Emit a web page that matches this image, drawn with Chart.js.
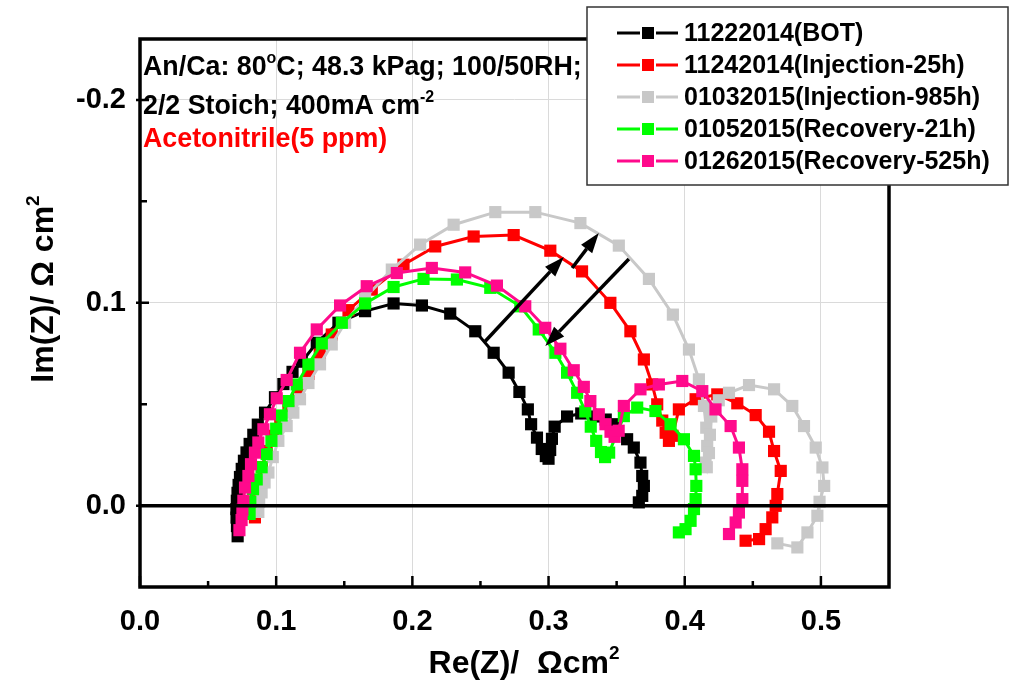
<!DOCTYPE html>
<html>
<head>
<meta charset="utf-8">
<script src="https://cdn.jsdelivr.net/npm/chart.js@4.4.1/dist/chart.umd.min.js"></script>
<style>
    html, body { margin: 0; padding: 0; background: #fff; }
    #wrap { width: 1010px; height: 681px; position: relative; }
</style>
</head>
<body>
<div id="wrap"><canvas id="plot-eis"></canvas></div>
<script>
const FONT = '"Liberation Sans", Arial, Helvetica, sans-serif';

const seriesNames = ['11222014(BOT)', '11242014(Injection-25h)', '01032015(Injection-985h)',
    '01052015(Recovery-21h)', '01262015(Recovery-525h)'];
const seriesColors = ['#000000', '#ff0000', '#c8c8c8', '#00ff00', '#ff0a8c'];

// Nyquist data, Re(Z) and -Im(Z) in ohm cm2
const botRe = [0.0717, 0.0712, 0.0709, 0.0708, 0.0711, 0.0716, 0.0724, 0.0734, 0.0747, 0.0763, 0.0782, 0.0805,
    0.0832, 0.0865, 0.0918, 0.0991, 0.1053, 0.1120, 0.1188, 0.1298, 0.1457, 0.1653, 0.1862, 0.2070, 0.2278,
    0.2462, 0.2597, 0.2707, 0.2786, 0.2848, 0.2872, 0.2915, 0.2950, 0.2980, 0.3000, 0.3012, 0.3025, 0.3045,
    0.3136, 0.3240, 0.3340, 0.3420, 0.3491, 0.3577, 0.3626, 0.3675, 0.3688, 0.3700, 0.3688, 0.3663];
const botIm = [-0.0150, -0.0100, -0.0058, -0.0016, 0.0025, 0.0064, 0.0103, 0.0142, 0.0182, 0.0222, 0.0263, 0.0305,
    0.0350, 0.0400, 0.0459, 0.0535, 0.0600, 0.0660, 0.0710, 0.0803, 0.0902, 0.0959, 0.0997, 0.0987, 0.0947,
    0.0860, 0.0754, 0.0656, 0.0561, 0.0475, 0.0402, 0.0336, 0.0280, 0.0245, 0.0232, 0.0275, 0.0330, 0.0390,
    0.0440, 0.0455, 0.0440, 0.0425, 0.0402, 0.0328, 0.0287, 0.0213, 0.0147, 0.0098, 0.0049, 0.0017];

const inj25Re = [0.0844, 0.0850, 0.0868, 0.0895, 0.0930, 0.0975, 0.1030, 0.1090, 0.1163, 0.1237, 0.1320, 0.1408,
    0.1531, 0.1702, 0.1935, 0.2168, 0.2450, 0.2744, 0.3013, 0.3246, 0.3454, 0.3601, 0.3700, 0.3761, 0.3798,
    0.3835, 0.3860, 0.3884, 0.3910, 0.3957, 0.4080, 0.4239, 0.4386, 0.4521, 0.4619, 0.4656, 0.4705, 0.4680,
    0.4668, 0.4643, 0.4594, 0.4546, 0.4447];
const inj25Im = [-0.0057, 0.0030, 0.0110, 0.0190, 0.0270, 0.0345, 0.0420, 0.0492, 0.0565, 0.0650, 0.0745, 0.0844,
    0.0964, 0.1065, 0.1188, 0.1278, 0.1327, 0.1334, 0.1257, 0.1155, 0.1000, 0.0860, 0.0721, 0.0598, 0.0500,
    0.0420, 0.0360, 0.0320, 0.0345, 0.0475, 0.0525, 0.0549, 0.0505, 0.0447, 0.0365, 0.0270, 0.0172, 0.0058,
    0.0000, -0.0057, -0.0115, -0.0164, -0.0172];

const inj985Re = [0.0869, 0.0875, 0.0893, 0.0915, 0.0943, 0.0975, 0.1016, 0.1077, 0.1126, 0.1175, 0.1237, 0.1322,
    0.1408, 0.1506, 0.1653, 0.1849, 0.2057, 0.2303, 0.2609, 0.2903, 0.3234, 0.3516, 0.3737, 0.3913, 0.4031,
    0.4104, 0.4141, 0.4158, 0.4165, 0.4153, 0.4162, 0.4178, 0.4185, 0.4195, 0.4250, 0.4325, 0.4472, 0.4656,
    0.4790, 0.4876, 0.4962, 0.5011, 0.5024, 0.4990, 0.4974, 0.4901, 0.4827, 0.4680];
const inj985Im = [-0.0030, 0.0020, 0.0066, 0.0115, 0.0164, 0.0240, 0.0320, 0.0393, 0.0459, 0.0525, 0.0605, 0.0697,
    0.0795, 0.0902, 0.1025, 0.1164, 0.1287, 0.1385, 0.1447, 0.1447, 0.1393, 0.1282, 0.1118, 0.0942, 0.0770,
    0.0623, 0.0492, 0.0385, 0.0295, 0.0213, 0.0190, 0.0260, 0.0350, 0.0440, 0.0520, 0.0557, 0.0595, 0.0574,
    0.0492, 0.0393, 0.0287, 0.0189, 0.0098, 0.0020, -0.0049, -0.0131, -0.0205, -0.0185];

const rec21Re = [0.0805, 0.0810, 0.0830, 0.0857, 0.0893, 0.0930, 0.0965, 0.1000, 0.1040, 0.1090, 0.1151, 0.1237,
    0.1335, 0.1482, 0.1653, 0.1862, 0.2082, 0.2327, 0.2572, 0.2793, 0.2928, 0.3050, 0.3136, 0.3210, 0.3270,
    0.3310, 0.3350, 0.3385, 0.3415, 0.3445, 0.3553, 0.3651, 0.3785, 0.3896, 0.3994, 0.4068, 0.4080, 0.4085,
    0.4080, 0.4068, 0.4043, 0.4006, 0.3957];
const rec21Im = [-0.0040, 0.0020, 0.0082, 0.0130, 0.0190, 0.0255, 0.0320, 0.0380, 0.0445, 0.0516, 0.0598, 0.0697,
    0.0800, 0.0902, 0.0997, 0.1078, 0.1118, 0.1115, 0.1074, 0.0983, 0.0869, 0.0754, 0.0656, 0.0557, 0.0465,
    0.0390, 0.0320, 0.0265, 0.0240, 0.0262, 0.0442, 0.0484, 0.0467, 0.0402, 0.0328, 0.0246, 0.0180, 0.0098,
    0.0033, -0.0016, -0.0074, -0.0115, -0.0131];

const rec525Re = [0.0730, 0.0746, 0.0752, 0.0759, 0.0771, 0.0796, 0.0815, 0.0844, 0.0869, 0.0906, 0.0954, 0.1004,
    0.1077, 0.1175, 0.1298, 0.1469, 0.1665, 0.1886, 0.2143, 0.2388, 0.2621, 0.2829, 0.2976, 0.3087, 0.3185,
    0.3259, 0.3307, 0.3369, 0.3418, 0.3455, 0.3485, 0.3515, 0.3553, 0.3675, 0.3810, 0.3982, 0.4129, 0.4226,
    0.4337, 0.4398, 0.4423, 0.4423, 0.4423, 0.4398, 0.4374, 0.4325];
const rec525Im = [-0.0120, -0.0070, -0.0020, 0.0025, 0.0090, 0.0147, 0.0205, 0.0262, 0.0312, 0.0377, 0.0451, 0.0530,
    0.0620, 0.0754, 0.0869, 0.0987, 0.1082, 0.1147, 0.1172, 0.1150, 0.1085, 0.0983, 0.0877, 0.0774, 0.0668,
    0.0586, 0.0516, 0.0451, 0.0402, 0.0365, 0.0340, 0.0370, 0.0492, 0.0574, 0.0598, 0.0615, 0.0565, 0.0475,
    0.0393, 0.0287, 0.0180, 0.0123, 0.0033, -0.0033, -0.0082, -0.0139];

const seriesRe = [botRe, inj25Re, inj985Re, rec21Re, rec525Re];
const seriesIm = [botIm, inj25Im, inj985Im, rec21Im, rec525Im];

const xTicks = [0, 0.1, 0.2, 0.3, 0.4, 0.5];
const yTicks = [0, 0.1, 0.2];
const yTickLabels = ['0.0', '0.1', '-0.2'];

// arrows showing the shift of the arcs (data coordinates)
const arrowFromRe = [0.2535, 0.3173, 0.3590];
const arrowFromIm = [0.0811, 0.1172, 0.1216];
const arrowToRe = [0.3112, 0.3369, 0.2976];
const arrowToIm = [0.1226, 0.1344, 0.0787];

let datasets = seriesNames.map((name, i) => ({
    label: name,
    data: seriesRe[i].map((re, j) => ({ x: re, y: seriesIm[i][j] })),
    showLine: true,
    borderColor: seriesColors[i],
    backgroundColor: seriesColors[i],
    borderWidth: 3,
    pointStyle: 'rect',
    pointRadius: 8.6,
    pointBorderWidth: 0,
    order: seriesNames.length - i // later series drawn on top
}));

function drawRich(ctx, parts, x, y, size) {
    // parts: [text, isSuperscript]
    let cx = x;
    for (const [t, sup] of parts) {
        ctx.font = 'bold ' + (sup ? Math.round(size * 0.6) : size) + 'px ' + FONT;
        ctx.fillText(t, cx, sup ? y - size * 0.45 : y);
        cx += ctx.measureText(t).width;
    }
    return cx - x;
}

function richWidth(ctx, parts, size) {
    let w = 0;
    for (const [t, sup] of parts) {
        ctx.font = 'bold ' + (sup ? Math.round(size * 0.6) : size) + 'px ' + FONT;
        w += ctx.measureText(t).width;
    }
    return w;
}

function arrow(ctx, x0, y0, x1, y1) {
    const ang = Math.atan2(y1 - y0, x1 - x0);
    const len = 20, half = 7;
    const bx = x1 - len * Math.cos(ang), by = y1 - len * Math.sin(ang);
    ctx.beginPath();
    ctx.moveTo(x0, y0);
    ctx.lineTo(bx, by);
    ctx.stroke();
    ctx.beginPath();
    ctx.moveTo(x1, y1);
    ctx.lineTo(bx + half * Math.sin(ang), by - half * Math.cos(ang));
    ctx.lineTo(bx - half * Math.sin(ang), by + half * Math.cos(ang));
    ctx.closePath();
    ctx.fill();
}

const decorations = {
    id: 'decorations',
    afterDatasetsDraw(chart) {
        const { ctx, chartArea: a, scales: { x, y } } = chart;
        ctx.save();
        ctx.strokeStyle = '#000';
        ctx.fillStyle = '#000';

        // zero line
        ctx.lineWidth = 3.5;
        const y0 = y.getPixelForValue(0);
        ctx.beginPath();
        ctx.moveTo(a.left, y0);
        ctx.lineTo(a.right, y0);
        ctx.stroke();

        // arrows
        ctx.lineWidth = 3.5;
        for (let i = 0; i < arrowFromRe.length; i++) {
            arrow(ctx, x.getPixelForValue(arrowFromRe[i]), y.getPixelForValue(arrowFromIm[i]),
                x.getPixelForValue(arrowToRe[i]), y.getPixelForValue(arrowToIm[i]));
        }

        // frame
        ctx.lineWidth = 3.5;
        ctx.strokeRect(a.left, a.top, a.right - a.left, a.bottom - a.top);

        // inward ticks, major and minor
        ctx.lineWidth = 2.5;
        ctx.beginPath();
        xTicks.forEach(v => {
            const px = x.getPixelForValue(v);
            ctx.moveTo(px, a.bottom); ctx.lineTo(px, a.bottom - 11);
            const pm = x.getPixelForValue(v + 0.05);
            if (pm < a.right - 2) { ctx.moveTo(pm, a.bottom); ctx.lineTo(pm, a.bottom - 6); }
        });
        yTicks.forEach(v => {
            const py = y.getPixelForValue(v);
            ctx.moveTo(a.left - 4, py); ctx.lineTo(a.left + 9, py);
            const pm = y.getPixelForValue(v + 0.05);
            if (pm > a.top + 2) { ctx.moveTo(a.left, pm); ctx.lineTo(a.left + 7, pm); }
        });
        ctx.stroke();
        ctx.restore();
    },
    afterDraw(chart) {
        const { ctx, chartArea: a } = chart;
        ctx.save();
        ctx.textBaseline = 'alphabetic';
        ctx.textAlign = 'left';

        // conditions
        ctx.fillStyle = '#000';
        drawRich(ctx, [['An/Ca: 80', false], ['o', true], ['C; 48.3 kPag; 100/50RH;', false]], 143, 75, 26.8);
        drawRich(ctx, [['2/2 Stoich; 400mA cm', false], ['-2', true]], 143, 114, 26.8);
        ctx.fillStyle = '#ff0000';
        drawRich(ctx, [['Acetonitrile(5 ppm)', false]], 143, 147, 26.8);

        // axis titles
        ctx.fillStyle = '#000';
        const xt = [['Re(Z)/  \u03A9cm', false], ['2', true]];
        const xw = richWidth(ctx, xt, 32);
        drawRich(ctx, xt, 524 - xw / 2, 673, 32);

        const yt = [['Im(Z)/ \u03A9 cm', false], ['2', true]];
        const yw = richWidth(ctx, yt, 32);
        ctx.save();
        ctx.translate(53, 289);
        ctx.rotate(-Math.PI / 2);
        drawRich(ctx, yt, -yw / 2, 0, 32);
        ctx.restore();

        // legend
        const lx = 587, ly = 7, lw = 421, lh = 178;
        ctx.fillStyle = '#fff';
        ctx.fillRect(lx, ly, lw, lh);
        ctx.strokeStyle = '#333';
        ctx.lineWidth = 1.5;
        ctx.strokeRect(lx, ly, lw, lh);
        seriesNames.forEach((name, i) => {
            const ry = 33 + i * 32;
            ctx.strokeStyle = seriesColors[i];
            ctx.fillStyle = seriesColors[i];
            ctx.lineWidth = 3;
            ctx.beginPath();
            ctx.moveTo(617, ry); ctx.lineTo(640, ry);
            ctx.moveTo(656, ry); ctx.lineTo(678, ry);
            ctx.stroke();
            ctx.fillRect(642, ry - 6, 12, 12);
            ctx.fillStyle = '#000';
            ctx.font = 'bold 25px ' + FONT;
            ctx.textBaseline = 'middle';
            ctx.fillText(name, 684, ry + 1);
        });
        ctx.restore();
    }
};

new Chart('plot-eis', {
    type: 'scatter',
    data: { datasets: datasets },
    options: {
        responsive: true,
        maintainAspectRatio: false,
        animation: false,
        layout: { padding: { top: 39, right: 121, left: 0, bottom: 0 } },
        plugins: {
            legend: { display: false },
            tooltip: { enabled: false }
        },
        scales: {
            x: {
                type: 'linear',
                min: 0,
                max: 0.55,
                afterBuildTicks: s => { s.ticks = xTicks.map(v => ({ value: v })); },
                afterFit: s => { s.height = 94; },
                grid: { color: '#dadada', lineWidth: 1, drawTicks: false },
                border: { display: false },
                ticks: {
                    padding: 18,
                    color: '#000',
                    maxRotation: 0,
                    autoSkip: false,
                    font: { family: FONT, size: 29, weight: 'bold' },
                    callback: v => v.toFixed(1)
                }
            },
            y: {
                type: 'linear',
                min: -0.04,
                max: 0.23,
                afterBuildTicks: s => { s.ticks = yTicks.map(v => ({ value: v })); },
                afterFit: s => { s.width = 140; },
                grid: { color: '#dadada', lineWidth: 1, drawTicks: false },
                border: { display: false },
                ticks: {
                    padding: 14,
                    color: '#000',
                    autoSkip: false,
                    font: { family: FONT, size: 29, weight: 'bold' },
                    callback: v => yTickLabels[yTicks.indexOf(v)]
                }
            }
        }
    },
    plugins: [decorations]
});
</script>
</body>
</html>
